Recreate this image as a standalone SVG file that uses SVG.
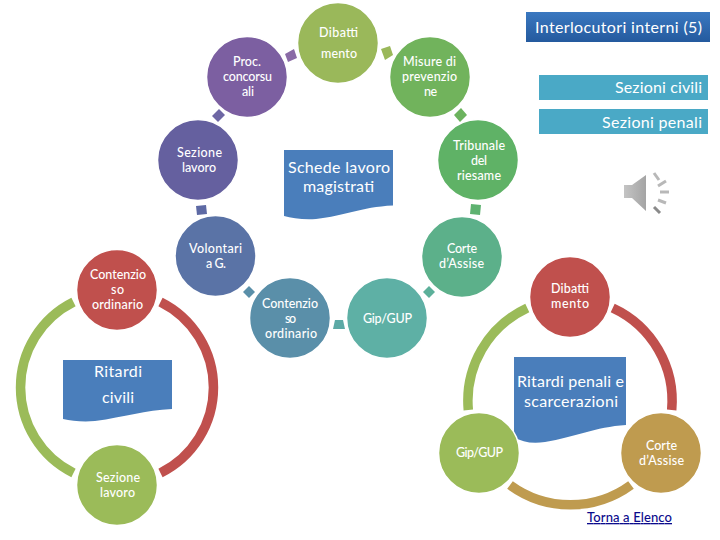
<svg xmlns="http://www.w3.org/2000/svg" width="720" height="540" viewBox="0 0 720 540">
<style>
text{font-family:"Lato","Open Sans","Liberation Sans",sans-serif;fill:#fff;text-anchor:middle}
.s{font-size:12.5px;font-weight:500}
.m{font-size:16px}
.n{stroke:#fff;stroke-width:1.5}
.arc{fill:none;stroke-width:9.5}
.link{stroke:none}
</style>
<defs>
<linearGradient id="hdr" x1="0" y1="0" x2="0" y2="1"><stop offset="0" stop-color="#3a78c0"/><stop offset="1" stop-color="#245a9e"/></linearGradient>
<linearGradient id="spk" x1="0" y1="0" x2="1" y2="0"><stop offset="0" stop-color="#c4c4c4"/><stop offset="1" stop-color="#a4a4a4"/></linearGradient>
</defs>
<g id="connectors">
<polygon class="link" fill="#8a6ba6" points="285,54 294,49 297,58 288,62"/>
<polygon class="link" fill="#9ab85a" points="381,49 390,46 393,55 385,60"/>
<polygon class="link" fill="#6e67a4" points="212,116 219,109 225,115 218,122"/>
<polygon class="link" fill="#6cb35e" points="454,115 461,108 467,115 460,122"/>
<polygon class="link" fill="#5d69a4" points="196,206 206,205 207,214 197,215"/>
<polygon class="link" fill="#5eb270" points="471,204 481,205 480,215 470,214"/>
<polygon class="link" fill="#5a8fa9" points="243,292 249,286 255,292 249,298"/>
<polygon class="link" fill="#5ca9a5" points="335,320 343,320 345,329 333,329"/>
<polygon class="link" fill="#5cb09a" points="423,292 429,286 435,292 429,298"/>
<path class="arc" stroke="#c0504d" d="M160.500 302 A95.500 95.500 0 0 1 160.500 473"/>
<path class="arc" stroke="#9bbb59" d="M73.500 302 A95.500 95.500 0 0 0 73.500 473"/>
<path class="arc" stroke="#c0504d" d="M612.700 308 A102.500 102.500 0 0 1 671.700 410"/>
<path class="arc" stroke="#9bbb59" d="M527.300 308 A102.500 102.500 0 0 0 468.300 410"/>
<path class="arc" stroke="#bf9b4f" d="M510 485 A102.500 102.500 0 0 0 631 485"/>
</g>
<g id="doc-schede">
<path fill="#4a7ebb" d="M284 150H393V205.500C360 207 345 216 316 219C303 220 292 218 284 216Z"/>
<text class="m" x="339" y="173" textLength="102">Schede lavoro</text>
<text class="m" x="338.500" y="192" textLength="71">magistrati</text>
</g>
<g id="doc-ritardi-civili">
<path fill="#4a7ebb" d="M63 360H172V409C145 410 125 417 95 421C83 422 72 421 63 419Z"/>
<text class="m" x="118" y="377" textLength="48">Ritardi</text>
<text class="m" x="118" y="403" textLength="32">civili</text>
</g>
<g id="doc-ritardi-penali">
<path fill="#4a7ebb" d="M514 357H626V425C595 427 575 437 545 442C532 444 522 442 514 437Z"/>
<text class="m" x="570.500" y="387" textLength="107">Ritardi penali e</text>
<text class="m" x="571" y="407" textLength="94">scarcerazioni</text>
</g>
<g id="n-dibattimento"><circle class="n" cx="338" cy="43" r="40.500" fill="#9ab85a"/>
<text class="s" x="338.500" y="37" textLength="39">Dibatti</text><text class="s" x="339" y="58" textLength="36">mento</text></g>
<g id="n-proc"><circle class="n" cx="247" cy="77" r="40.500" fill="#7c5fa1"/>
<text class="s" x="247" y="66" textLength="28">Proc.</text><text class="s" x="247.500" y="81" textLength="49">concorsu</text><text class="s" x="248" y="96" textLength="12">ali</text></g>
<g id="n-misure"><circle class="n" cx="430" cy="77" r="40.500" fill="#71b35c"/>
<text class="s" x="429.500" y="66" textLength="53">Misure di</text><text class="s" x="429.500" y="81" textLength="55">prevenzio</text><text class="s" x="430.500" y="96" textLength="13">ne</text></g>
<g id="n-sezione"><circle class="n" cx="198" cy="160" r="40.500" fill="#65609f"/>
<text class="s" x="199.500" y="157" textLength="45">Sezione</text><text class="s" x="199" y="172" textLength="34">lavoro</text></g>
<g id="n-tribunale"><circle class="n" cx="478" cy="160" r="40.500" fill="#5fb266"/>
<text class="s" x="479" y="150" textLength="52">Tribunale</text><text class="s" x="479" y="165" textLength="16">del</text><text class="s" x="479" y="180" textLength="44">riesame</text></g>
<g id="n-volontari"><circle class="n" cx="215.500" cy="256" r="40.500" fill="#5a73a6"/>
<text class="s" x="215.500" y="253" textLength="53">Volontari</text><text class="s" x="216" y="268" textLength="20">a G.</text></g>
<g id="n-corte"><circle class="n" cx="462" cy="257" r="40.500" fill="#5cb08a"/>
<text class="s" x="462" y="253" textLength="30">Corte</text><text class="s" x="461.500" y="268" textLength="45">d’Assise</text></g>
<g id="n-contenzioso"><circle class="n" cx="290" cy="318" r="40.500" fill="#5a8fa9"/>
<text class="s" x="290" y="308" textLength="56">Contenzio</text><text class="s" x="290.500" y="323" textLength="11">so</text><text class="s" x="291" y="338" textLength="52">ordinario</text></g>
<g id="n-gip"><circle class="n" cx="387" cy="318" r="40.500" fill="#5eb0a5"/>
<text class="s" x="387.500" y="323" textLength="49">Gip/GUP</text></g>
<g id="n-contenzioso-civ"><circle class="n" cx="117" cy="290" r="40.500" fill="#c0504d"/>
<text class="s" x="118" y="279" textLength="56">Contenzio</text><text class="s" x="117.500" y="294" textLength="13">so</text><text class="s" x="117.500" y="309" textLength="51">ordinario</text></g>
<g id="n-sezione-civ"><circle class="n" cx="117" cy="485" r="40.500" fill="#9bbb59"/>
<text class="s" x="118" y="482" textLength="44">Sezione</text><text class="s" x="117.500" y="497" textLength="35">lavoro</text></g>
<g id="n-dibattimento-pen"><circle class="n" cx="570" cy="297" r="40.500" fill="#c0504d"/>
<text class="s" x="570" y="293" textLength="38">Dibatti</text><text class="s" x="570" y="308" textLength="38">mento</text></g>
<g id="n-corte-pen"><circle class="n" cx="661" cy="453" r="40.500" fill="#bf9b4f"/>
<text class="s" x="661.500" y="450" textLength="31">Corte</text><text class="s" x="661.500" y="465" textLength="45">d’Assise</text></g>
<g id="n-gip-pen"><circle class="n" cx="479" cy="453" r="40.500" fill="#9bbb59"/>
<text class="s" x="479.500" y="457" textLength="47">Gip/GUP</text></g>
<g id="interlocutori"><rect x="526" y="12" width="184" height="30" fill="url(#hdr)"/>
<text class="m" x="618.500" y="33" textLength="167">Interlocutori interni (5)</text></g>
<g id="sezioni-civili"><rect x="539" y="75" width="169" height="25" fill="#4aa9c6"/>
<text class="m" x="658.500" y="93" textLength="87">Sezioni civili</text></g>
<g id="sezioni-penali"><rect x="539" y="109" width="169" height="25" fill="#4aa9c6"/>
<text class="m" x="652" y="128" textLength="100">Sezioni penali</text></g>
<g id="speaker">
<polygon points="624,185 632,185 646,175 646,211 632,198 624,198" fill="url(#spk)"/>
<g stroke="#b8b8b8" stroke-width="3" fill="none">
<line x1="654" y1="173" x2="659" y2="180"/>
<line x1="658" y1="186" x2="666" y2="181"/>
<line x1="660" y1="192" x2="669" y2="192"/>
<line x1="658" y1="200" x2="666" y2="203"/>
<line x1="654" y1="207" x2="660" y2="213" stroke="#8a8a8a"/>
</g>
</g>
<g id="link-elenco"><text x="629.500" y="522" style="font-size:13px;font-weight:500;fill:#0a0a8c;text-decoration:underline" textLength="85">Torna a Elenco</text></g>
</svg>
